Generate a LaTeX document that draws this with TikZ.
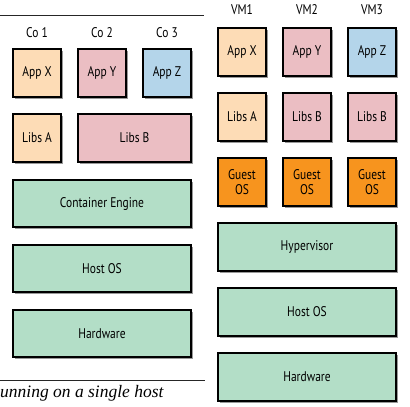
\documentclass[tikz,border=0pt]{standalone}
\usepackage{fontspec}
\setmainfont{PT Sans}[FakeStretch=0.82]
\newfontfamily\capfont{Liberation Serif}
\usetikzlibrary{shadows}
\definecolor{peach}{RGB}{253,220,182}
\definecolor{pinkb}{RGB}{235,190,195}
\definecolor{blueb}{RGB}{180,213,234}
\definecolor{greenb}{RGB}{179,222,199}
\definecolor{orangeb}{RGB}{247,148,30}
\tikzset{
  box/.style={draw=black, line width=1.5pt, inner sep=0pt, align=center,
    font=\fontsize{14}{15}\selectfont,
    drop shadow={shadow xshift=2pt, shadow yshift=-2pt, fill=black, opacity=0.4}},
  lbl/.style={inner sep=0pt, font=\fontsize{14}{15}\selectfont},
  rule/.style={line width=1pt, black!85}
}
\begin{document}
\begin{tikzpicture}[x=1pt, y=-1pt]
\useasboundingbox (0,0) rectangle (410,407);
% left rules
\coordinate (tl) at (0,15); \coordinate (tr) at (204,15);
\draw[rule] (tl) -- (tr);
\coordinate (bl) at (0,380); \coordinate (br) at (205,380);
\draw[rule] (bl) -- (br);
\node[anchor=base west, inner sep=0pt, font=\capfont\itshape\fontsize{17.5}{19}\selectfont] (cap) at (0,397) {unning on a single host};
% containers
\node[lbl] (co1) at (37,33) {Co 1};
\node[lbl] (co2) at (102,33) {Co 2};
\node[lbl] (co3) at (167,33) {Co 3};
\node[box, fill=peach, minimum width=48, minimum height=48] (ax) at (37,73) {App X};
\node[box, fill=pinkb, minimum width=48, minimum height=48] (ay) at (102,73) {App Y};
\node[box, fill=blueb, minimum width=48, minimum height=48] (az) at (167,73) {App Z};
\node[box, fill=peach, minimum width=48, minimum height=48] (la) at (37,138) {Libs A};
\node[box, fill=pinkb, minimum width=113, minimum height=48] (lb) at (134.5,138) {Libs B};
\node[box, fill=greenb, minimum width=178, minimum height=47] (ce) at (102,203.5) {Container Engine};
\node[box, fill=greenb, minimum width=178, minimum height=47] (hos) at (102,268.5) {Host OS};
\node[box, fill=greenb, minimum width=178, minimum height=47] (hw) at (102,333.5) {Hardware};
% VMs
\node[lbl] (vm1) at (242,10) {VM1};
\node[lbl] (vm2) at (307,10) {VM2};
\node[lbl] (vm3) at (372,10) {VM3};
\node[box, fill=peach, minimum width=48, minimum height=48] (vax) at (242,52) {App X};
\node[box, fill=pinkb, minimum width=48, minimum height=48] (vay) at (307,52) {App Y};
\node[box, fill=blueb, minimum width=48, minimum height=48] (vaz) at (372,52) {App Z};
\node[box, fill=peach, minimum width=48, minimum height=48] (vla) at (242,117) {Libs A};
\node[box, fill=pinkb, minimum width=48, minimum height=48] (vlb) at (307,117) {Libs B};
\node[box, fill=pinkb, minimum width=48, minimum height=48] (vlc) at (372,117) {Libs B};
\node[box, fill=orangeb, minimum width=48, minimum height=48] (g1) at (242,182) {Guest\\OS};
\node[box, fill=orangeb, minimum width=48, minimum height=48] (g2) at (307,182) {Guest\\OS};
\node[box, fill=orangeb, minimum width=48, minimum height=48] (g3) at (372,182) {Guest\\OS};
\node[box, fill=greenb, minimum width=178, minimum height=48] (hv) at (307,247) {Hypervisor};
\node[box, fill=greenb, minimum width=178, minimum height=48] (vhos) at (307,312) {Host OS};
\node[box, fill=greenb, minimum width=178, minimum height=48] (vhw) at (307,377) {Hardware};
\end{tikzpicture}
\end{document}
